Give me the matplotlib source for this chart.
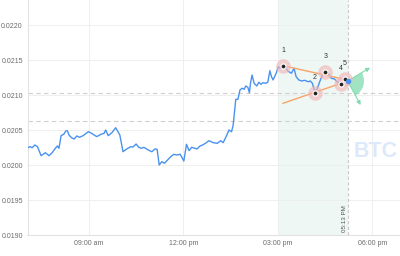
import matplotlib
matplotlib.use("Agg")
import matplotlib.pyplot as plt
from matplotlib.patches import Wedge
from matplotlib.transforms import IdentityTransform

# ---------------- data ----------------
times = ["07:03","07:08","07:12","07:17","07:22","07:29","07:33","07:37","07:44","07:50",
         "07:57","08:00","08:03","08:07","08:12","08:16","08:19","08:22","08:27","08:32",
         "08:37","08:42","08:49","08:59","09:05","09:15","09:23","09:29","09:32","09:37",
         "09:44","09:51","09:59","10:05","10:12","10:20","10:24","10:30","10:35","10:40",
         "10:45","10:53","11:00","11:06","11:10","11:14","11:19","11:24","11:30","11:36",
         "11:42","11:47","11:54","12:01","12:06","12:11","12:16","12:22","12:26","12:32",
         "12:37","12:42","12:49","12:57","13:05","13:11","13:16","13:23","13:27","13:32",
         "13:35","13:40","13:44","13:48","13:52","13:56","13:59","14:03","14:06","14:08",
         "14:11","14:15","14:20","14:24","14:28","14:32","14:37","14:41","14:45","14:48",
         "14:51","14:57","15:01","15:04","15:10","15:14","15:19","15:26","15:31","15:35",
         "15:40","15:46","15:51","15:58","16:02","16:06","16:11","16:15","16:20","16:25",
         "16:31","16:36","16:42","16:48","16:53","17:01","17:04","17:08","17:13"]
prices = [0.020251,0.020266,0.020251,0.020290,0.020266,0.020137,0.020157,0.020180,0.020137,0.020180,
          0.020251,0.020276,0.020243,0.020423,0.020443,0.020490,0.020494,0.020433,0.020394,0.020376,
          0.020419,0.020400,0.020423,0.020480,0.020457,0.020409,0.020443,0.020457,0.020504,0.020423,
          0.020466,0.020537,0.020433,0.020194,0.020233,0.020266,0.020261,0.020304,0.020257,0.020243,
          0.020257,0.020219,0.020194,0.020233,0.020229,0.020004,0.020051,0.020029,0.020076,0.020123,
          0.020157,0.020147,0.020157,0.020061,0.020300,0.020209,0.020257,0.020243,0.020233,0.020276,
          0.020290,0.020314,0.020351,0.020323,0.020314,0.020351,0.020323,0.020433,0.020504,0.020480,
          0.020576,0.020943,0.020943,0.021076,0.021100,0.021086,0.021133,0.021114,0.021037,0.021171,
          0.021290,0.021171,0.021133,0.021186,0.021157,0.021180,0.021171,0.021186,0.021351,0.021266,
          0.021219,0.021314,0.021409,0.021386,0.021423,0.021409,0.021347,0.021314,0.021386,0.021266,
          0.021219,0.021204,0.021214,0.021194,0.021204,0.021171,0.021037,0.021090,0.021194,0.021290,
          0.021337,0.021319,0.021243,0.021233,0.021194,0.021157,0.021194,0.021233,0.021204]

pattern_labels = ["1", "2", "3", "4", "5"]
pattern_times = ["15:10", "16:11", "16:31", "17:01", "17:08"]
pattern_prices = [0.021423, 0.021037, 0.021337, 0.021157, 0.021233]

upper_line_times = ["15:10", "17:20"]
upper_line_prices = [0.021423, 0.021206]
lower_line_times = ["15:10", "17:08"]
lower_line_prices = [0.020886, 0.021190]

forecast_origin_time = "17:13"
forecast_origin_price = 0.021204
forecast_tip_times = ["17:56", "17:38"]
forecast_tip_prices = [0.021394, 0.020861]

level_lines = [0.021029, 0.020637]
shade_start, now_time = "15:00", "17:13"
now_label = "05:13 PM"
watermark = "BTC"
watermark_pos = ("18:06", 0.02019)

x_ticks = ["09:00", "12:00", "15:00", "18:00"]
x_tick_labels = ["09:00 am", "12:00 pm", "03:00 pm", "06:00 pm"]
y_ticks = [0.0190, 0.0195, 0.0200, 0.0205, 0.0210, 0.0215, 0.0220]
x_range = ("07:03", "18:53")
y_range = (0.0190, 0.022361)


def h(t):
    hh, mm = t.split(":")
    return int(hh) + int(mm) / 60.0


# ---------------- style ----------------
BLUE = "#4a92ef"
ORANGE = "#f7a465"
GREEN = "#80dcb0"
GRID = "#ededed"
TICK = "#6b6b6b"
FONT = "Liberation Sans"

fig = plt.figure(figsize=(4.0, 2.56), dpi=100)
ax = fig.add_axes([27.5 / 400, 20.7 / 256, 1 - 27.5 / 400, 1 - 20.7 / 256])
ax.set_xlim(h(x_range[0]), h(x_range[1]))
ax.set_ylim(*y_range)

for s in ["top", "right"]:
    ax.spines[s].set_visible(False)
for s in ["left", "bottom"]:
    ax.spines[s].set_color("#e2e2e2")
    ax.spines[s].set_linewidth(0.8)

ax.set_xticks([h(t) for t in x_ticks])
ax.set_xticklabels(x_tick_labels)
ax.set_yticks(y_ticks)
ax.set_yticklabels([f"{v:.4f}" for v in y_ticks])
ax.tick_params(length=0, labelsize=5, labelcolor=TICK, pad=3.4)
for lab in ax.get_xticklabels() + ax.get_yticklabels():
    lab.set_fontfamily(FONT)
ax.grid(True, color=GRID, lw=0.6, zorder=0)
ax.set_axisbelow(True)

# shaded pattern window & now-line
ax.axvspan(h(shade_start), h(now_time), color="#eef7f4", zorder=0.5, lw=0)
ax.axvline(h(now_time), color="#c9c9c9", lw=0.8, ls=(0, (3, 2)), zorder=1)
ax.text(h(now_time) - 0.1, y_range[0] + 0.00004, now_label, rotation=90,
        ha="center", va="bottom", fontsize=4.5, color="#555555", family=FONT, zorder=3)

for lv in level_lines:
    ax.axhline(lv, color="#cfcfcf", lw=0.8, ls=(0, (4, 3)), zorder=1)

# watermark
ax.text(h(watermark_pos[0]), watermark_pos[1], watermark, fontsize=15.5, fontweight="bold",
        color="#dce9fb", ha="center", va="center", family=FONT, zorder=1)

# price line
ax.plot([h(t) for t in times], prices, color=BLUE, lw=1.0, zorder=4)

# pattern trend lines
ax.plot([h(t) for t in lower_line_times], lower_line_prices, color=ORANGE, lw=1.0, zorder=5)
ax.annotate("", xy=(h(upper_line_times[1]), upper_line_prices[1]),
            xytext=(h(upper_line_times[0]), upper_line_prices[0]),
            arrowprops=dict(arrowstyle="-|>", color=ORANGE, lw=1.0, mutation_scale=6,
                            shrinkA=0, shrinkB=0), zorder=5)

# forecast wedge
ox, oy = ax.transData.transform((h(forecast_origin_time), forecast_origin_price))
import math
angs = []
for t, p in zip(forecast_tip_times, forecast_tip_prices):
    tx, ty = ax.transData.transform((h(t), p))
    angs.append(math.degrees(math.atan2(ty - oy, tx - ox)))
w = Wedge((ox, oy), 16.5, min(angs), max(angs), transform=IdentityTransform(),
          facecolor=GREEN, alpha=0.75, edgecolor="none", zorder=5)
ax.add_patch(w)
for t, p in zip(forecast_tip_times, forecast_tip_prices):
    ax.annotate("", xy=(h(t), p), xytext=(h(forecast_origin_time), forecast_origin_price),
                arrowprops=dict(arrowstyle="-|>", color=GREEN, lw=0.8, mutation_scale=6,
                                shrinkA=0, shrinkB=0), zorder=5)

# pattern points
px = [h(t) for t in pattern_times]
ax.scatter(px, pattern_prices, s=110, color="#f0b8b8", alpha=0.65, lw=0, zorder=6)
ax.scatter(px, pattern_prices, s=22, color="white", alpha=0.8, lw=0, zorder=7)
ax.scatter(px, pattern_prices, s=7, color="#222222", lw=0, zorder=8)
for lab, x, y in zip(pattern_labels, px, pattern_prices):
    ax.annotate(lab, (x, y), xytext=(0, 8.5), textcoords="offset points", ha="center",
                va="bottom", fontsize=5, color="#333333", family=FONT, zorder=9)

# current price dot
ax.scatter([h(forecast_origin_time)], [forecast_origin_price], s=16, color=BLUE, lw=0, zorder=9)

fig.savefig("out.png", dpi=100)
